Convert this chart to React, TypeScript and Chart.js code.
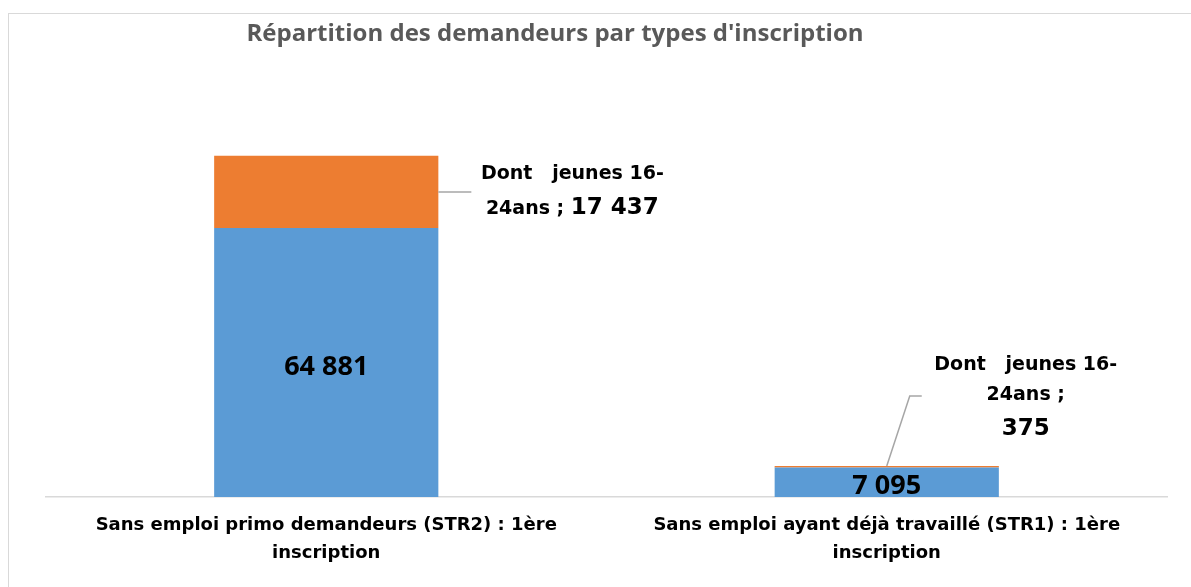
import React, { useEffect, useRef } from "react";
import { Chart, registerables } from "chart.js";

Chart.register(...registerables);

const chartTitle = "Répartition des demandeurs par types d'inscription";
const categories = [
  ["Sans emploi primo demandeurs (STR2) : 1ère", "inscription"],
  ["Sans emploi ayant déjà travaillé (STR1) : 1ère", "inscription"],
];
const seriesNames = ["Total", "Dont   jeunes 16-24ans"];
const totalValues = [64881, 7095];
const youthValues = [17437, 375];
const youthLabelLine1 = "Dont   jeunes 16-";
const youthLabelLine2 = "24ans ;";

const FONT = "'Open Sans', 'DejaVu Sans', sans-serif";
const FONT2 = "'DejaVu Sans', sans-serif";
const BLUE = "#5B9BD5";
const ORANGE = "#ED7D31";

const fmt = (v: number) => String(v).replace(/\B(?=(\d{3})+(?!\d))/g, " ");

const decorPlugin = {
  id: "decor",
  beforeDraw(chart: any) {
    const ctx = chart.ctx;
    ctx.save();
    ctx.fillStyle = "#ffffff";
    ctx.fillRect(0, 0, chart.width, chart.height);
    ctx.strokeStyle = "#D9D9D9";
    ctx.lineWidth = 1;
    ctx.strokeRect(8.5, 13.5, chart.width + 100, chart.height + 100);
    ctx.fillStyle = "#595959";
    ctx.font = `bold 24px ${FONT}`;
    ctx.textAlign = "center";
    ctx.textBaseline = "alphabetic";
    ctx.fillText(chartTitle, 555, 41);
    ctx.restore();
  },
  afterDatasetsDraw(chart: any) {
    const ctx = chart.ctx;
    const m0 = chart.getDatasetMeta(0);
    const m1 = chart.getDatasetMeta(1);
    ctx.save();
    ctx.fillStyle = "#000000";
    ctx.textAlign = "center";
    ctx.textBaseline = "alphabetic";
    // blue labels
    ctx.font = `bold 27px ${FONT}`;
    m0.data.forEach((el: any, i: number) => {
      const cy = (el.y + el.base) / 2;
      ctx.fillText(fmt(totalValues[i]), el.x, cy + 12);
    });
    const small = `bold 19px ${FONT2}`;
    const big = `bold 23px ${FONT2}`;
    ctx.strokeStyle = "#A6A6A6";
    ctx.lineWidth = 1.5;
    m1.data.forEach((el: any, i: number) => {
      const w = el.width;
      const val = fmt(youthValues[i]);
      if (i === 0) {
        const midY = (el.y + el.base) / 2;
        const x0 = el.x + w / 2;
        ctx.beginPath();
        ctx.moveTo(x0, midY);
        ctx.lineTo(x0 + 33, midY);
        ctx.stroke();
        const cx = x0 + 134;
        ctx.textAlign = "center";
        ctx.font = small;
        ctx.fillText(youthLabelLine1, cx, midY - 13);
        const a = youthLabelLine2 + " ";
        ctx.font = small;
        const wa = ctx.measureText(a).width;
        ctx.font = big;
        const wb = ctx.measureText(val).width;
        const start = cx - (wa + wb) / 2;
        ctx.textAlign = "left";
        ctx.font = small;
        ctx.fillText(a, start, midY + 22);
        ctx.font = big;
        ctx.fillText(val, start + wa, midY + 22);
      } else {
        const top = el.y;
        ctx.beginPath();
        ctx.moveTo(el.x, top);
        ctx.lineTo(el.x + 23, top - 70);
        ctx.lineTo(el.x + 35, top - 70);
        ctx.stroke();
        const cx = el.x + 139;
        ctx.textAlign = "center";
        ctx.font = small;
        ctx.fillText(youthLabelLine1, cx, top - 96);
        ctx.fillText(youthLabelLine2, cx, top - 66);
        ctx.font = big;
        ctx.fillText(val, cx, top - 31);
      }
    });
    ctx.restore();
  },
};

export default function App() {
  const ref = useRef<HTMLCanvasElement>(null);
  useEffect(() => {
    if (!ref.current) return;
    const chart = new Chart(ref.current, {
      type: "bar",
      data: {
        labels: categories as any,
        datasets: [
          {
            label: seriesNames[0],
            data: totalValues,
            backgroundColor: BLUE,
            barPercentage: 0.4,
            categoryPercentage: 1,
          },
          {
            label: seriesNames[1],
            data: youthValues,
            backgroundColor: ORANGE,
            barPercentage: 0.4,
            categoryPercentage: 1,
          },
        ],
      },
      options: {
        responsive: false,
        animation: false,
        layout: { padding: { left: 46, right: 24, top: 124, bottom: 6 } },
        plugins: {
          legend: { display: false },
          title: { display: false },
          tooltip: { enabled: false },
        },
        scales: {
          x: {
            stacked: true,
            grid: { display: false, drawTicks: false },
            border: { display: true, color: "#D9D9D9", width: 1.5 },
            ticks: {
              color: "#000000",
              padding: 14,
              maxRotation: 0,
              autoSkip: false,
              font: { family: FONT2, size: 18, weight: "bold", lineHeight: 1.556 },
            },
          },
          y: {
            stacked: true,
            display: false,
            min: 0,
            max: 90000,
          },
        },
      },
      plugins: [decorPlugin],
    });
    return () => chart.destroy();
  }, []);
  return (
    <canvas
      ref={ref}
      width={1191}
      height={587}
      style={{ position: "absolute", left: 0, top: 0, display: "block" }}
    />
  );
}
